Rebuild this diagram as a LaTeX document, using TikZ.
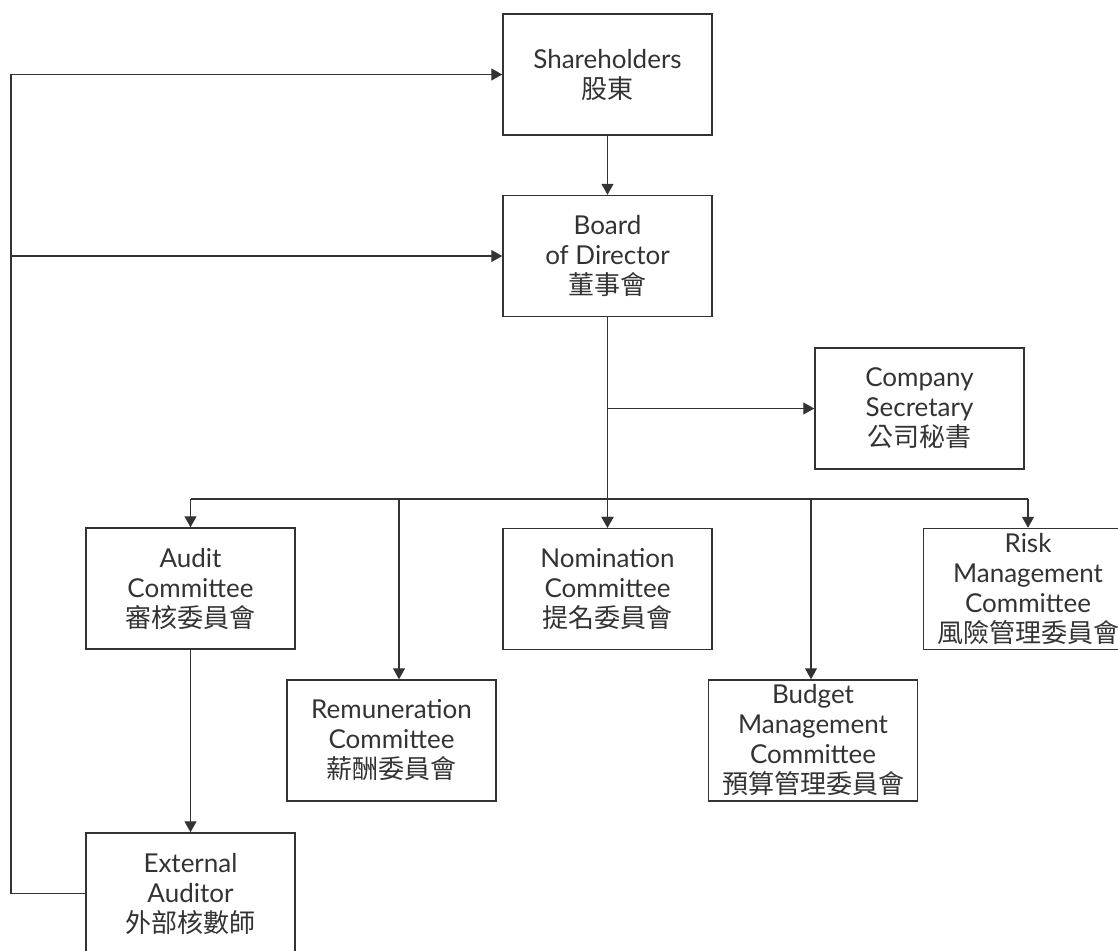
\documentclass[tikz,border=0pt]{standalone}
\usepackage{fontspec}
\setmainfont{Lato}
\newfontfamily\cjk{Noto Sans CJK TC}
\usetikzlibrary{arrows.meta}
\definecolor{ink}{HTML}{333333}
\tikzset{box/.style={draw=ink, line width=0.75pt, minimum width=104.5pt, minimum height=60.5pt,
  inner sep=0pt, align=center, text=ink, font=\fontsize{13}{15}\selectfont},
link/.style={draw=ink, line width=0.6pt},
%filled tips on every connector end
arr/.style={link, -{Triangle[length=5.5pt,width=6pt]}}}

\begin{document}
\begin{tikzpicture}[x=0.5pt,y=-0.5pt]
\useasboundingbox (0,0) rectangle (1118,950);
% top of the chart
\node[box] (share) at (607.5,74.5) {Shareholders\\{\cjk 股東}};
\node[box] (board) at (607.5,256) {Board\\of Director\\{\cjk 董事會}};
\node[box] (secr) at (919.5,408.5) {Company\\Secretary\\{\cjk 公司秘書}};

% committees
\node[box] (audit) at (190.5,588.5) {Audit\\Committee\\{\cjk 審核委員會}};
\node[box] (nomin) at (607.5,589) {Nomination\\Committee\\{\cjk 提名委員會}};
\node[box] (risk) at (1028,589) {Risk\\Management\\Committee\\{\cjk 風險管理委員會}};
\node[box] (remun) at (391.5,740.5) {Remuneration\\Committee\\{\cjk 薪酬委員會}};
\node[box] (budget) at (813,740.5) {Budget\\Management\\Committee\\{\cjk 預算管理委員會}};
\node[box] (extaud) at (190.5,893.5) {External\\Auditor\\{\cjk 外部核數師}};

% reporting lines
\coordinate (spine) at (11,500);
\draw[arr] (extaud.west) -| (spine |- share.west) -- (share.west);
\draw[arr] (spine |- board.west) -- (board.west);
\draw[arr] (share) -- (board);
\draw[arr] (board) -- (nomin);
\draw[arr] (board.south |- secr.west) -- (secr.west);

% bus to the committees
\foreach \x/\n in {190.5/audit,399/remun,607.5/nomin,811/budget,1028/risk}
{
  \coordinate (d\n) at (\x,499);
  \draw[arr] (d\n) -- (d\n |- \n.north);
}
\draw[link] (daudit) -- (drisk);
\draw[arr] (audit) -- (extaud);

\end{tikzpicture}
\end{document}
